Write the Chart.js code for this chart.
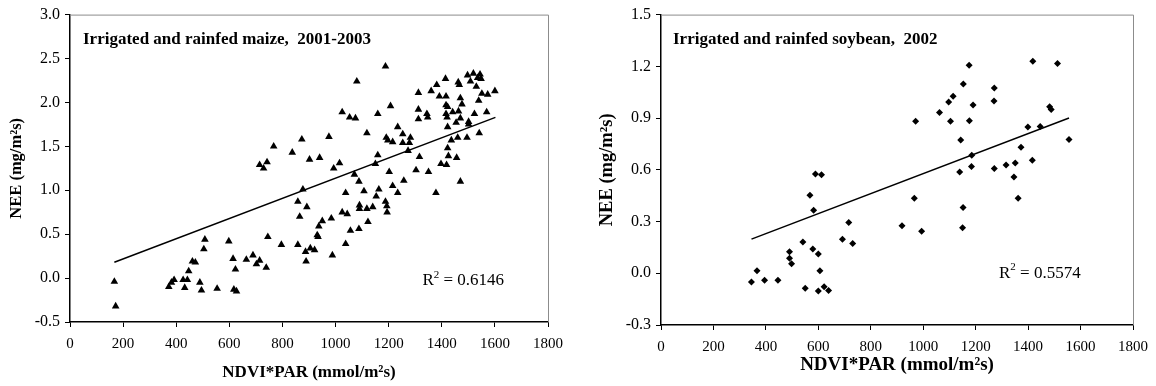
<!DOCTYPE html>
<html>
<head>
<meta charset="utf-8">
<script src="https://cdn.jsdelivr.net/npm/chart.js@4"></script>
<style>
  body { margin: 0; background: #fff; }
  .box { position: absolute; top: 0; height: 386px; }
  #left { left: 0; width: 580px; }
  #right { left: 590px; width: 566px; }
</style>
</head>
<body>
<div class="box" id="left"><canvas id="maizeChart"></canvas></div>
<div class="box" id="right"><canvas id="soyChart"></canvas></div>
<script>
// axis ticks
const xTicks = [0, 200, 400, 600, 800, 1000, 1200, 1400, 1600, 1800];
const maizeYTicks = [-0.5, 0, 0.5, 1, 1.5, 2, 2.5, 3];
const soyYTicks = [-0.3, 0, 0.3, 0.6, 0.9, 1.2, 1.5];

// maize, NDVI*PAR vs NEE
const maizeX = [167, 172, 372, 382, 392, 426, 432, 442, 447, 461, 472, 489, 495, 504, 508, 554, 598, 614, 617, 623,
  627, 664, 689, 702, 714, 739, 745, 796, 858, 858, 865, 892, 877, 887, 905, 921, 889, 931, 934, 937,
  950, 984, 988, 1025, 1044, 1038, 1038, 1056, 1088, 1090, 1090, 1118, 1140, 1122, 1107, 1153, 1163, 1188, 1193, 1194,
  1215, 1234, 1378, 1470, 714, 742, 729, 767, 837, 873, 902, 940, 975, 993, 1015, 1025, 1053, 1075, 1080, 1071,
  1088, 1118, 1150, 1159, 1159, 1188, 1207, 1191, 1197, 1215, 1202, 1234, 1253, 1282, 1253, 1278, 1273, 1257, 1303, 1316,
  1350, 1312, 1312, 1344, 1347, 1312, 1360, 1381, 1414, 1391, 1416, 1416, 1422, 1416, 1420, 1441, 1463, 1422, 1454, 1470,
  1501, 1501, 1436, 1460, 1495, 1541, 1422, 1425, 1456, 1397, 1418, 1462, 1466, 1508, 1476, 1470, 1539, 1530, 1497, 1519,
  1544, 1535, 1548, 1551, 1573, 1600, 1523, 1569];
const maizeNEE = [-0.04, -0.32, -0.10, -0.05, -0.02, -0.02, -0.11, -0.02, 0.08, 0.19, 0.18, -0.05, -0.14, 0.33, 0.44, -0.12, 0.42, 0.22, -0.13, 0.10,
  -0.15, 0.21, 0.26, 0.16, 0.20, 0.12, 0.47, 0.38, 0.38, 0.87, 0.70, 0.81, 1.01, 0.30, 0.34, 0.32, 0.19, 0.49, 0.47, 0.59,
  0.65, 0.68, 0.26, 0.75, 0.73, 0.39, 0.97, 0.54, 0.56, 0.83, 0.79, 0.79, 0.81, 0.64, 0.99, 0.93, 1.01, 0.87, 0.82, 0.75,
  1.05, 0.97, 0.97, 1.10, 1.29, 1.32, 1.25, 1.50, 1.43, 1.58, 1.35, 1.37, 1.61, 1.25, 1.31, 1.89, 1.83, 1.82, 2.24, 1.18,
  1.10, 1.65, 1.30, 1.40, 1.87, 2.41, 1.96, 1.60, 1.57, 1.55, 1.21, 1.72, 1.64, 1.60, 1.54, 1.54, 1.45, 1.11, 1.23, 1.38,
  1.21, 1.92, 1.81, 1.87, 1.83, 2.11, 2.13, 2.20, 2.27, 2.07, 2.07, 1.97, 1.95, 1.87, 1.83, 1.89, 1.90, 1.72, 1.77, 1.82,
  1.78, 1.75, 1.57, 1.60, 1.60, 1.65, 1.48, 1.39, 1.37, 1.30, 1.29, 2.23, 2.20, 2.24, 1.98, 2.05, 2.02, 2.18, 2.31, 2.33,
  2.32, 2.28, 2.27, 2.10, 2.09, 2.13, 1.87, 1.89];

// soybean, NDVI*PAR vs NEE
const soyX = [345, 366, 395, 446, 490, 490, 498, 541, 550, 568, 582, 589, 612, 579, 600, 606, 600, 622, 639, 692,
  716, 731, 919, 966, 971, 994, 1062, 1097, 1114, 1104, 1153, 1175, 1190, 1176, 1143, 1185, 1139, 1184, 1152, 1150,
  1271, 1270, 1271, 1316, 1351, 1346, 1362, 1373, 1399, 1416, 1418, 1446, 1482, 1488, 1512, 1556];
const soyNEE = [-0.05, 0.015, -0.04, -0.04, 0.125, 0.087, 0.055, 0.182, -0.087, 0.452, 0.366, 0.575, 0.571, 0.14, 0.112, 0.015, -0.103, -0.078, -0.10, 0.197,
  0.294, 0.173, 0.275, 0.435, 0.881, 0.243, 0.932, 0.993, 1.027, 0.881, 1.097, 1.207, 0.976, 0.885, 0.773, 0.685, 0.587, 0.619, 0.381, 0.264,
  1.074, 0.999, 0.607, 0.628, 0.640, 0.558, 0.435, 0.731, 0.848, 0.655, 1.230, 0.851, 0.966, 0.949, 1.217, 0.776];

// linear trend lines (slope, intercept) and their x span, as printed
const maizeFit = [0.00115, -0.012];
const maizeFitRange = [167, 1602];
const soyFit = [0.00058, -0.002];
const soyFitRange = [345, 1556];

const FONT = '"Liberation Serif", "Times New Roman", serif';

const framePlugin = {
  id: 'frame',
  afterDraw(chart, args, o) {
    const { ctx, chartArea: a, scales } = chart;
    ctx.save();
    // grey top/right frame
    ctx.strokeStyle = '#8c8c8c';
    ctx.lineWidth = 1;
    ctx.beginPath();
    ctx.moveTo(a.left, a.top + 0.5);
    ctx.lineTo(a.right + 0.5, a.top + 0.5);
    ctx.lineTo(a.right + 0.5, a.bottom);
    ctx.stroke();
    // caption inside the plot
    ctx.fillStyle = '#000';
    ctx.textBaseline = 'middle';
    ctx.font = 'bold 17px ' + FONT;
    ctx.fillText(o.label, a.left + o.dx, a.top + o.dy);
    // R squared
    let x = scales.x.getPixelForValue(o.r2At[0]);
    const y = scales.y.getPixelForValue(o.r2At[1]);
    ctx.font = '17px ' + FONT;
    ctx.fillText('R', x, y);
    x += ctx.measureText('R').width;
    ctx.font = '11px ' + FONT;
    ctx.fillText('2', x, y - 6);
    x += ctx.measureText('2').width;
    ctx.font = '17px ' + FONT;
    ctx.fillText(' = ' + o.r2, x, y);
    ctx.restore();
  }
};

function scatterChart(id, c) {
  const pts = c.x.map((v, i) => ({ x: v, y: c.y[i] }));
  const fit = c.fitRange.map(v => ({ x: v, y: c.fit[0] * v + c.fit[1] }));
  return new Chart(document.getElementById(id), {
    type: 'scatter',
    data: {
      datasets: [
        {
          data: pts,
          pointStyle: c.marker,
          pointRadius: c.radius,
          pointHoverRadius: c.radius,
          backgroundColor: '#000',
          pointBorderWidth: 0
        },
        {
          data: fit,
          showLine: true,
          borderColor: '#000',
          borderWidth: 1.5,
          pointRadius: 0
        }
      ]
    },
    options: {
      animation: false,
      responsive: true,
      maintainAspectRatio: false,
      layout: { padding: c.pad },
      plugins: {
        legend: { display: false },
        tooltip: { enabled: false },
        frame: c.frame
      },
      scales: {
        x: {
          type: 'linear',
          min: 0,
          max: 1800,
          afterBuildTicks: s => { s.ticks = xTicks.map(v => ({ value: v })); },
          afterFit: s => { s.height = c.xAxisH; },
          grid: { drawOnChartArea: false, color: '#000', tickLength: 5 },
          border: { color: '#000', width: 1.5 },
          ticks: { color: '#000', font: { family: FONT, size: 15 }, padding: 8, maxRotation: 0, callback: v => String(v) },
          title: {
            display: true,
            text: 'NDVI*PAR (mmol/m²s)',
            color: '#000',
            font: { family: FONT, size: c.xTitleSize, weight: 'bold' },
            padding: { top: 0, bottom: c.xTitlePad }
          }
        },
        y: {
          min: c.yTicks[0],
          max: c.yTicks[c.yTicks.length - 1],
          afterBuildTicks: s => { s.ticks = c.yTicks.map(v => ({ value: v })); },
          afterFit: s => { s.width = c.yAxisW; },
          grid: { drawOnChartArea: false, color: '#000', tickLength: 5 },
          border: { color: '#000', width: 1.5 },
          ticks: { color: '#000', font: { family: FONT, size: 16 }, padding: 5, callback: v => v.toFixed(1) },
          title: {
            display: true,
            text: 'NEE (mg/m²s)',
            color: '#000',
            font: { family: FONT, size: c.yTitleSize, weight: 'bold' },
            padding: { top: c.yTitlePad, bottom: 0 }
          }
        }
      }
    },
    plugins: [framePlugin]
  });
}

scatterChart('maizeChart', {
  x: maizeX, y: maizeNEE, fit: maizeFit, fitRange: maizeFitRange, yTicks: maizeYTicks,
  marker: 'triangle', radius: 4.4,
  pad: { left: 0, right: 32, top: 12, bottom: 0 },
  yAxisW: 70, xAxisH: 64,
  yTitleSize: 16.5, yTitlePad: 7, xTitleSize: 17, xTitlePad: 3,
  frame: { label: 'Irrigated and rainfed maize,  2001-2003', dx: 13, dy: 25, r2: '0.6146', r2At: [1327, -0.03] }
});

scatterChart('soyChart', {
  x: soyX, y: soyNEE, fit: soyFit, fitRange: soyFitRange, yTicks: soyYTicks,
  marker: 'rectRot', radius: 3.5,
  pad: { left: 0, right: 21, top: 9, bottom: 0 },
  yAxisW: 71, xAxisH: 61,
  yTitleSize: 18.5, yTitlePad: 6, xTitleSize: 19, xTitlePad: 10,
  frame: { label: 'Irrigated and rainfed soybean,  2002', dx: 12, dy: 25, r2: '0.5574', r2At: [1289, 0.0] }
});
</script>
</body>
</html>
